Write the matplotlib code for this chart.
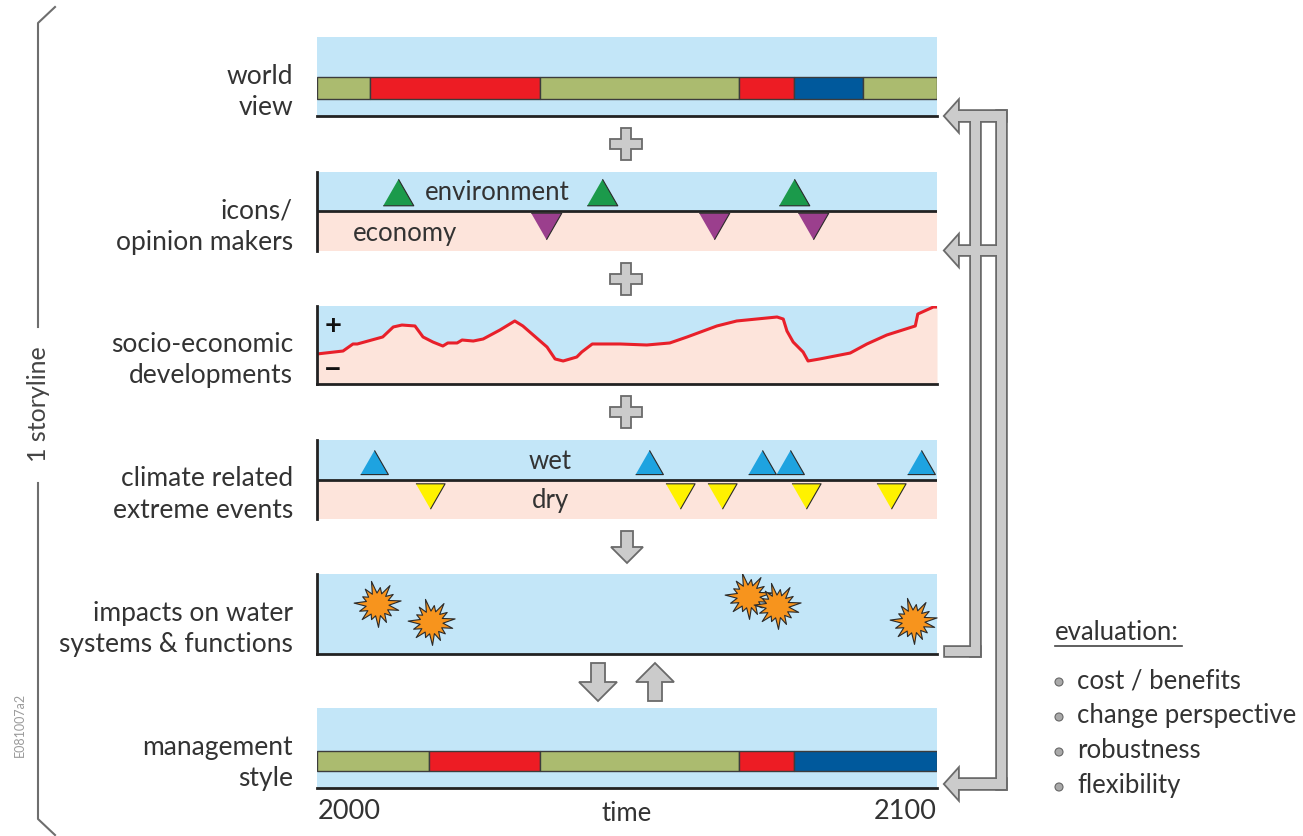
import numpy as np
import matplotlib
matplotlib.use('Agg')
import matplotlib.pyplot as plt
from matplotlib.patches import Polygon, Circle
from matplotlib.path import Path

plt.rcParams['font.family'] = ['Lato', 'DejaVu Sans']

# ---------------- data ----------------
year_start, year_end = 2000, 2100
world_view_breaks = [2000, 2008.5, 2036, 2068, 2077, 2088, 2100]
world_view_kinds = ['green', 'red', 'green', 'red', 'blue', 'green']
management_breaks = [2000, 2018, 2036, 2068, 2077, 2100]
management_kinds = ['green', 'red', 'green', 'red', 'blue']

env_icons = [2013, 2046, 2077]
eco_icons = [2037, 2064, 2080]

socio_years = [2000.0, 2004.2, 2005.8, 2006.5, 2010.6, 2012.3, 2013.7, 2015.8, 2017.1,
               2018.7, 2020.3, 2021.1, 2022.6, 2023.4, 2025.2, 2026.8, 2029.5, 2031.9,
               2033.2, 2037.1, 2038.4, 2039.7, 2041.9, 2042.7, 2044.4, 2048.9, 2053.2,
               2056.9, 2059.7, 2064.5, 2067.7, 2074.2, 2075.2, 2075.8, 2076.8, 2078.4,
               2079.2, 2081.1, 2086.0, 2088.7, 2091.9, 2096.5, 2096.9, 2099.4, 2100.0]
socio_index = [38.5, 42.3, 51.3, 51.3, 60.3, 73.1, 75.6, 74.4, 60.3,
               53.8, 48.7, 52.6, 52.6, 56.4, 55.1, 57.7, 69.2, 80.8,
               74.4, 47.4, 32.1, 29.5, 34.6, 41.0, 51.3, 51.3, 50.0,
               52.6, 60.3, 74.4, 80.8, 85.9, 83.3, 67.9, 53.8, 41.0,
               29.5, 32.1, 39.7, 51.3, 62.8, 74.4, 89.7, 98.7, 98.7]

wet_events = [2009.2, 2053.5, 2071.8, 2076.3, 2097.4]
dry_events = [2018.2, 2058.5, 2065.3, 2078.9, 2092.6]

impact_years = [2009.7, 2018.4, 2069.5, 2074.2, 2096.1]
impact_level = [0.62, 0.40, 0.72, 0.60, 0.41]

row_labels = ['world\nview', 'icons/\nopinion makers', 'socio-economic\ndevelopments',
              'climate related\nextreme events', 'impacts on water\nsystems & functions',
              'management\nstyle']
eval_title = 'evaluation:'
eval_items = ['cost / benefits', 'change perspective', 'robustness', 'flexibility']

# ---------------- style ----------------
W, H = 1303, 837
BLUE_BG = '#c3e6f8'
PINK_BG = '#fde4db'
SEG = {'green': '#abbb6f', 'red': '#ed1c24', 'blue': '#00599c'}
TXT = '#333333'
LINE = '#222222'
GRAY_FILL = '#cbcbcb'
GRAY_EDGE = '#6a6a6a'
FS = 18.5
FS_LAB = 19

fig = plt.figure(figsize=(W / 100, H / 100), dpi=100)
fig.patch.set_facecolor('white')

bg = fig.add_axes([0, 0, 1, 1])
bg.set_xlim(0, W)
bg.set_ylim(H, 0)
bg.axis('off')


def px_axes(x0, y0, x1, y1):
    ax = fig.add_axes([x0 / W, 1 - y1 / H, (x1 - x0) / W, (y1 - y0) / H])
    ax.set_xlim(year_start, year_end)
    ax.set_ylim(0, 1)
    ax.set_xticks([])
    ax.set_yticks([])
    for s in ax.spines.values():
        s.set_visible(False)
        s.set_color(LINE)
        s.set_linewidth(2)
    ax.set_facecolor(BLUE_BG)
    return ax


PX0, PX1 = 317, 937
panels = [(38, 117), (173, 252), (307, 385), (441, 520), (575, 655), (709, 789)]

# labels
for (t, b), lab in zip(panels, row_labels):
    bg.text(293, (t + b) / 2 + 14, lab, ha='right', va='center', fontsize=FS_LAB,
            color=TXT, linespacing=1.3)

# 1 world view
ax = px_axes(PX0, panels[0][0], PX1, panels[0][1])
ax.barh(0.355, np.diff(world_view_breaks), left=world_view_breaks[:-1], height=0.28,
        color=[SEG[k] for k in world_view_kinds], edgecolor='#3c3c3c', linewidth=1)
ax.spines['bottom'].set_visible(True)

# 2 icons / opinion makers
ax = px_axes(PX0, panels[1][0], PX1, panels[1][1])
ax.axhspan(0, 0.506, color=PINK_BG, lw=0)
ax.axhline(0.506, color=LINE, lw=2)
ax.spines['left'].set_visible(True)
up = [(-1, -0.87), (1, -0.87), (0, 0.87)]
dn = [(-1, 0.87), (1, 0.87), (0, -0.87)]
ax.plot(env_icons, [0.75] * len(env_icons), ls='none', marker=up, ms=22,
        mfc='#1b9a4b', mec='#2a2a2a', mew=0.8)
ax.plot(eco_icons, [0.32] * len(eco_icons), ls='none', marker=dn, ms=22,
        mfc='#9b3f8d', mec='#2a2a2a', mew=0.8)
ax.text(2029, 0.75, 'environment', ha='center', va='center', fontsize=FS, color=TXT)
ax.text(2014.2, 0.24, 'economy', ha='center', va='center', fontsize=FS, color=TXT)

# 3 socio-economic developments
ax = px_axes(PX0, panels[2][0], PX1, panels[2][1])
ax.set_ylim(0, 100)
ax.fill_between(socio_years, 0, socio_index, color=PINK_BG, lw=0)
ax.fill_between(socio_years, socio_index, 100, color=BLUE_BG, lw=0)
ax.plot(socio_years, socio_index, color='#e8202a', lw=2.2, solid_joinstyle='round')
ax.spines['left'].set_visible(True)
ax.spines['bottom'].set_visible(True)
ax.text(2002.6, 76, '+', ha='center', va='center', fontsize=21, fontweight='bold', color='#111111')
ax.text(2002.6, 19, '\u2212', ha='center', va='center', fontsize=22, fontweight='bold', color='#111111')

# 4 climate related extreme events
ax = px_axes(PX0, panels[3][0], PX1, panels[3][1])
ax.axhspan(0, 0.494, color=PINK_BG, lw=0)
ax.axhline(0.494, color=LINE, lw=2)
ax.spines['left'].set_visible(True)
ax.plot(wet_events, [0.72] * len(wet_events), ls='none', marker=up, ms=20,
        mfc='#1ea3e0', mec='#2a2a2a', mew=0.8)
ax.plot(dry_events, [0.29] * len(dry_events), ls='none', marker=dn, ms=21,
        mfc='#fff200', mec='#2a2a2a', mew=0.8)
ax.text(2037.6, 0.74, 'wet', ha='center', va='center', fontsize=FS, color=TXT)
ax.text(2037.6, 0.25, 'dry', ha='center', va='center', fontsize=FS, color=TXT)

# 5 impacts
ax = px_axes(PX0, panels[4][0], PX1, panels[4][1])
ax.spines['left'].set_visible(True)
ax.spines['bottom'].set_visible(True)
radii = [1.0, 0.78, 0.95, 0.72, 1.0, 0.82, 0.7, 0.98, 0.8, 0.9, 0.68, 0.96, 0.84, 0.75, 0.92]
nsp = len(radii)
verts = []
for i, r in enumerate(radii):
    a = 2 * np.pi * i / nsp + 0.15
    verts.append((r * np.cos(a), r * np.sin(a)))
    a2 = 2 * np.pi * (i + 0.5) / nsp + 0.15
    verts.append((0.48 * np.cos(a2), 0.48 * np.sin(a2)))
verts.append(verts[0])
star = Path(verts, closed=True)
ax.plot(impact_years, impact_level, ls='none', marker=star, ms=34,
        mfc='#f7941d', mec='#2a2a2a', mew=0.8)

# 6 management style
ax = px_axes(PX0, panels[5][0], PX1, panels[5][1])
ax.barh(0.335, np.diff(management_breaks), left=management_breaks[:-1], height=0.25,
        color=[SEG[k] for k in management_kinds], edgecolor='#3c3c3c', linewidth=1)
ax.spines['bottom'].set_visible(True)

# axis texts
bg.text(PX0 + 1, 812, '2000', ha='left', va='center', fontsize=FS_LAB + 0.5, color=TXT)
bg.text(PX1, 812, '2100', ha='right', va='center', fontsize=FS_LAB + 0.5, color=TXT)
bg.text(627, 814, 'time', ha='center', va='center', fontsize=FS, color=TXT)

# ---- connectors between panels ----
def cross(cx, cy, a=16, t=5):
    pts = [(cx - t, cy - a), (cx + t, cy - a), (cx + t, cy - t), (cx + a, cy - t),
           (cx + a, cy + t), (cx + t, cy + t), (cx + t, cy + a), (cx - t, cy + a),
           (cx - t, cy + t), (cx - a, cy + t), (cx - a, cy - t), (cx - t, cy - t)]
    bg.add_patch(Polygon(pts, closed=True, fc=GRAY_FILL, ec=GRAY_EDGE, lw=1.3))


def block_arrow(cx, cy, direction, w=38, h=38, sw=14, hh=19):
    s = 1 if direction == 'down' else -1
    top = cy - s * h / 2
    bot = cy + s * h / 2
    neck = bot - s * hh
    pts = [(cx - sw / 2, top), (cx + sw / 2, top), (cx + sw / 2, neck), (cx + w / 2, neck),
           (cx, bot), (cx - w / 2, neck), (cx - sw / 2, neck)]
    bg.add_patch(Polygon(pts, closed=True, fc=GRAY_FILL, ec=GRAY_EDGE, lw=1.3))


for cy in [145, 280, 413]:
    cross(626, cy)
block_arrow(627, 548, 'down', w=32, h=32, sw=12, hh=16)
block_arrow(598, 683, 'down')
block_arrow(655, 683, 'up')

# ---- feedback pipes on the right ----
def rect(x0, y0, x1, y1):
    return [(x0, y0), (x1, y0), (x1, y1), (x0, y1)]


def head(tipx, cy, L=13, hw=14.5):
    return [(tipx, cy), (tipx + L, cy - hw), (tipx + L, cy + hw)]


pipe_shapes = [
    rect(957, 112, 1006, 122),
    rect(997, 112, 1006, 790),
    rect(971, 122, 980, 657),
    rect(957, 247, 997, 256),
    rect(945, 648, 980, 657),
    rect(957, 780, 1006, 790),
    head(945, 117), head(945, 251.5), head(945, 785),
]
for p in pipe_shapes:
    bg.add_patch(Polygon(p, closed=True, fc=GRAY_FILL, ec=GRAY_EDGE, lw=2.6, joinstyle='miter'))
for p in pipe_shapes:
    bg.add_patch(Polygon(p, closed=True, fc=GRAY_FILL, ec='none', lw=0))

# ---- evaluation block ----
bg.text(1055, 633, eval_title, ha='left', va='center', fontsize=FS, color=TXT)
bg.plot([1055, 1182], [647, 647], color='#444444', lw=1.2)
for i, item in enumerate(eval_items):
    y = 681 + i * 35
    bg.add_patch(Circle((1059, y + 2), 4, fc='#a9a9a9', ec='#666666', lw=0.8))
    bg.text(1077, y, item, ha='left', va='center', fontsize=FS, color=TXT)

# ---- left brace ----
bc = '#6e6e6e'
bg.plot([55, 38, 38], [8, 24, 328], color=bc, lw=1.5)
bg.plot([38, 38, 55], [484, 820, 836], color=bc, lw=1.5)
bg.text(38, 404, '1 storyline', rotation=90, ha='center', va='center', fontsize=18, color='#444444')
bg.text(20, 725, 'E081007a2', rotation=90, ha='center', va='center', fontsize=9, color='#9a9a9a')

fig.savefig('out.png', dpi=100, facecolor='white')
